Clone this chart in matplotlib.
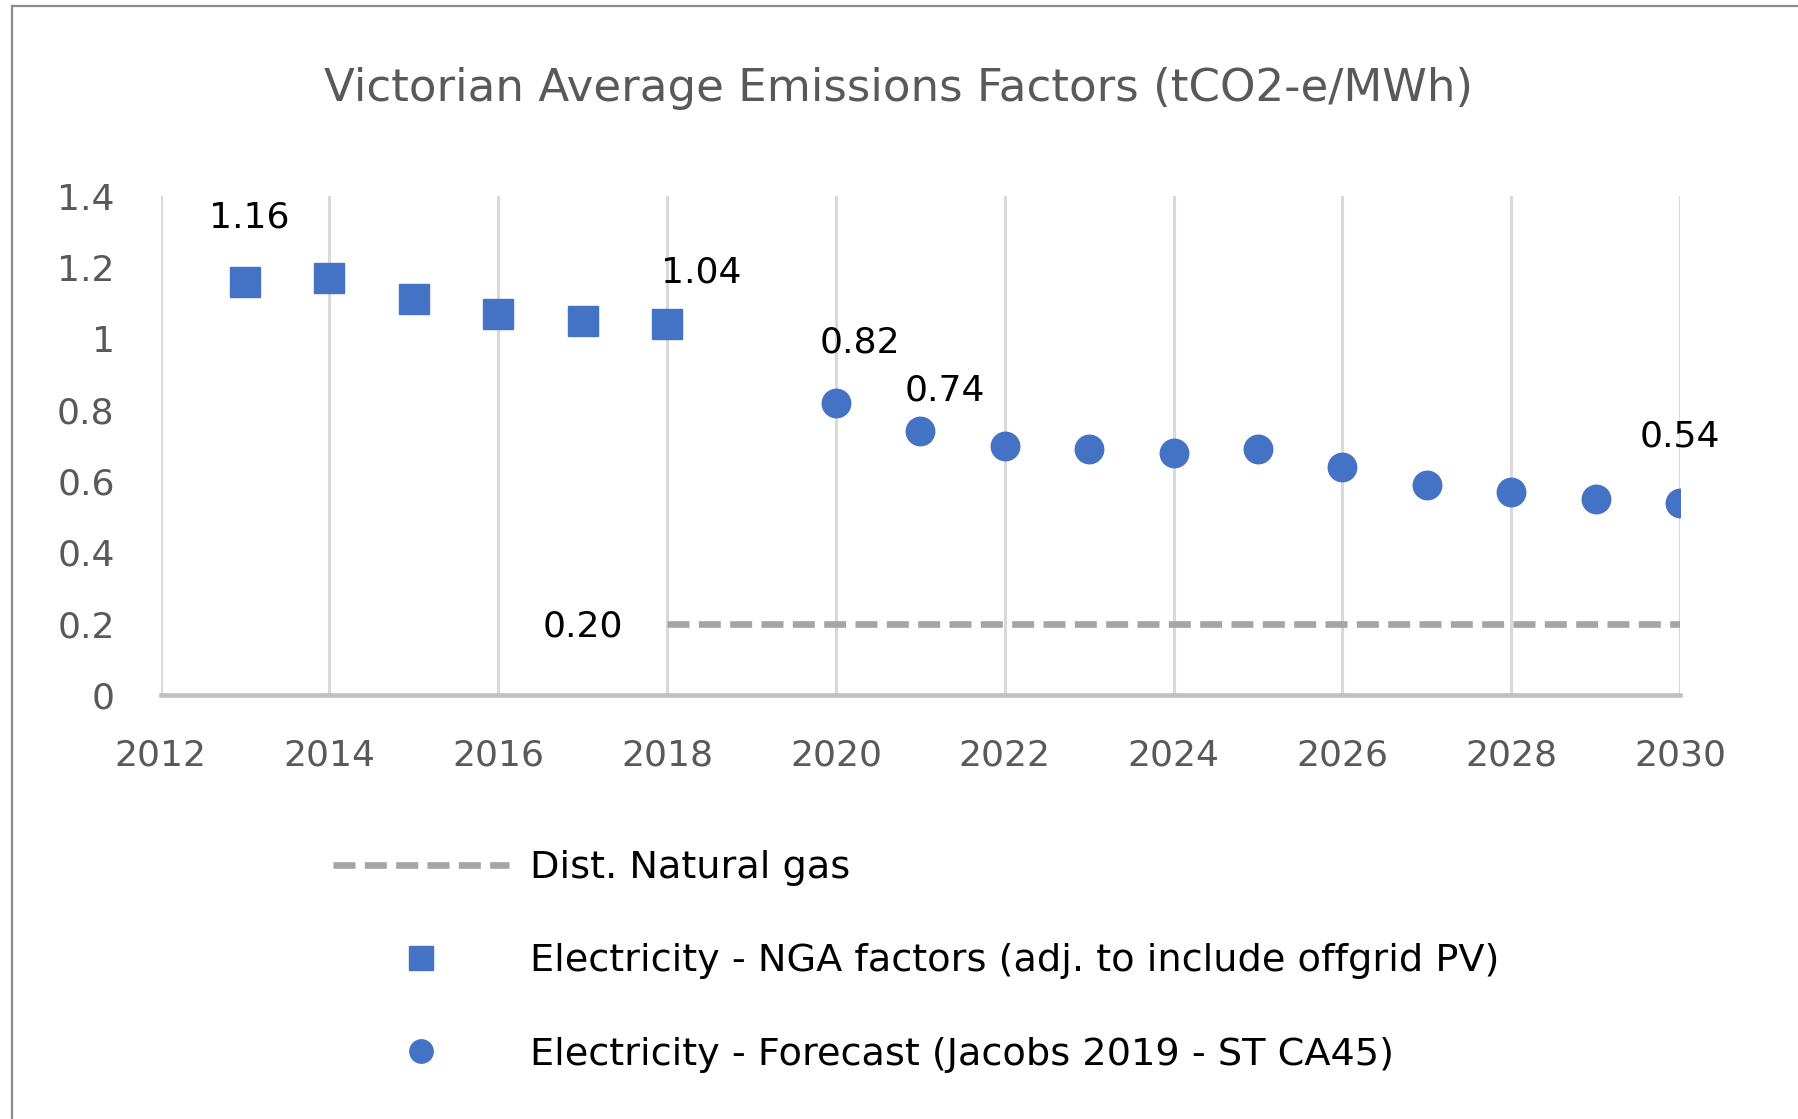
import matplotlib
matplotlib.use("Agg")
import matplotlib.pyplot as plt
from matplotlib.lines import Line2D

plt.rcParams['font.family'] = ['DejaVu Sans']

# Data
nga_years = [2013, 2014, 2015, 2016, 2017, 2018]
nga_values = [1.16, 1.17, 1.11, 1.07, 1.05, 1.04]
fc_years = [2020, 2021, 2022, 2023, 2024, 2025, 2026, 2027, 2028, 2029, 2030]
fc_values = [0.82, 0.74, 0.70, 0.69, 0.68, 0.69, 0.64, 0.59, 0.57, 0.55, 0.54]
gas_years = [2018, 2030]
gas_values = [0.20, 0.20]
x_ticks = [2012, 2014, 2016, 2018, 2020, 2022, 2024, 2026, 2028, 2030]
y_ticks = [0, 0.2, 0.4, 0.6, 0.8, 1.0, 1.2, 1.4]
y_tick_labels = ["0", "0.2", "0.4", "0.6", "0.8", "1", "1.2", "1.4"]
title = "Victorian Average Emissions Factors (tCO2-e/MWh)"
label_gas = "Dist. Natural gas"
label_nga = "Electricity - NGA factors (adj. to include offgrid PV)"
label_fc = "Electricity - Forecast (Jacobs 2019 - ST CA45)"

blue = "#4472C4"
grey_txt = "#595959"

fig = plt.figure(figsize=(17.98, 11.19), dpi=100)
ax = fig.add_axes([0.0893, 0.3789, 0.8451, 0.4459])

ax.set_xlim(2012, 2030)
ax.set_ylim(0, 1.4)

gas_line, = ax.plot(gas_years, gas_values, color="#A5A5A5", lw=4.8,
                    linestyle=(0, (3.3, 1.4)), dash_capstyle='butt', label=label_gas, zorder=3)
nga_pts, = ax.plot(nga_years, nga_values, linestyle='none', marker='s', markersize=21,
                   color=blue, label=label_nga, zorder=4)
fc_pts, = ax.plot(fc_years, fc_values, linestyle='none', marker='o', markersize=20.5,
                  color=blue, label=label_fc, zorder=4)

ax.set_xticks(x_ticks)
ax.set_yticks(y_ticks)
ax.set_yticklabels(y_tick_labels)
ax.tick_params(axis='both', length=0, labelsize=26, labelcolor=grey_txt)
ax.tick_params(axis='x', pad=31)
ax.tick_params(axis='y', pad=33)
ax.grid(axis='x', color="#D9D9D9", lw=2.2)
ax.set_axisbelow(True)
for s in ['top', 'right', 'left']:
    ax.spines[s].set_visible(False)
ax.spines['bottom'].set_color("#BFBFBF")
ax.spines['bottom'].set_linewidth(3.3)
ax.spines['bottom'].set_zorder(2)

# Data labels
def lab(x, y, txt, dx, dy, ha='center'):
    ax.annotate(txt, (x, y), xytext=(dx, dy), textcoords='offset pixels',
                ha=ha, va='center', fontsize=26, color='black')

lab(nga_years[0], nga_values[0], f"{nga_values[0]:.2f}", 4, 64)
lab(nga_years[-1], nga_values[-1], f"{nga_values[-1]:.2f}", 34, 52)
lab(fc_years[0], fc_values[0], f"{fc_values[0]:.2f}", 24, 60)
lab(fc_years[1], fc_values[1], f"{fc_values[1]:.2f}", 25, 41)
lab(fc_years[-1], fc_values[-1], f"{fc_values[-1]:.2f}", 0, 66)
lab(gas_years[0], gas_values[0], f"{gas_values[0]:.2f}", -84, -3)

fig.text(0.5, 0.921, title, ha='center', va='center', fontsize=32.5, color=grey_txt)

fig.legend(handles=[gas_line, nga_pts, fc_pts], loc='upper left',
           bbox_to_anchor=(0.166, 0.271), frameon=False, fontsize=27.5,
           handlelength=4.6, labelspacing=1.5, handletextpad=0.55,
           markerscale=0.82)

# outer frame (top and left visible)
fig.add_artist(Line2D([0.0064, 0.0064], [0, 0.9946], transform=fig.transFigure, color="#8C8C8C", lw=1.6))
fig.add_artist(Line2D([0.0064, 1.0], [0.9946, 0.9946], transform=fig.transFigure, color="#8C8C8C", lw=1.6))

fig.savefig("out.png", dpi=100)
